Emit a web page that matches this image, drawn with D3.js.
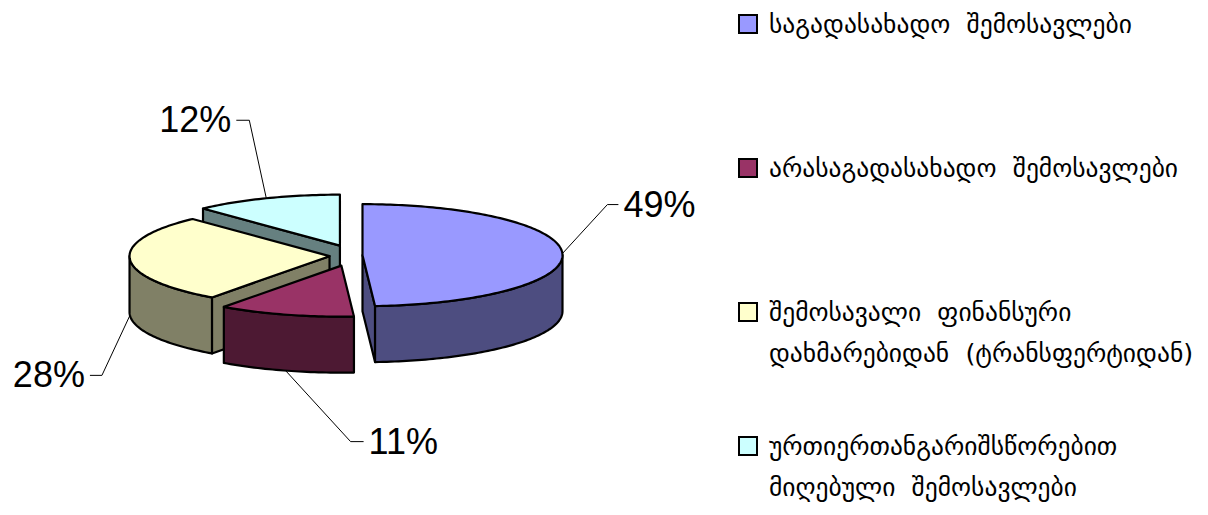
<!DOCTYPE html>
<html>
<head>
<meta charset="utf-8">
<script src="https://cdn.jsdelivr.net/npm/d3@7"></script>
<style>
  body { margin: 0; background: #fff; }
  .pct { font-family: "Liberation Sans", Arial, sans-serif; font-size: 36px; fill: #000; }
  .leg { font-family: "DejaVu Sans", sans-serif; font-size: 25.5px; fill: #000; white-space: pre; }
</style>
</head>
<body>
<svg id="chart" width="1208" height="515"></svg>
<script>
// DATA
var categories = [
  ["საგადასახადო  შემოსავლები"],
  ["არასაგადასახადო  შემოსავლები"],
  ["შემოსავალი  ფინანსური", "დახმარებიდან  (ტრანსფერტიდან)"],
  ["ურთიერთანგარიშსწორებით", "მიღებული  შემოსავლები"]
];
var values = [49, 11, 28, 12];
var pctLabels = ["49%", "11%", "28%", "12%"];

// colours (top face / side face)
var topColor = ["#9999FF", "#993366", "#FFFFCC", "#CCFFFF"];
var sideColor = ["#4D4D80", "#4D1933", "#808066", "#668080"];

// pie geometry
var cx = 346, cy = 255.5, rx = 200, ry = 51, depth = 56,
    explode = 16.5, explodeY = 0.64;

// leader elbow offsets from the anchor point, and label side
var leader = [
  {dx: 45, dy: -49, len: 11, side: 1},
  {dx: 65, dy: 71, len: 13, side: 1},
  {dx: -28, dy: 60, len: 12, side: -1},
  {dx: -17, dy: -78, len: 13, side: -1}
];

var svg = d3.select("#chart");

var pie = d3.pie().sort(null).value(function(d) { return d; });
var arcs = pie(values);

var line = d3.line();

function pt(o, a, down) {
  return [o[0] + rx * Math.sin(a), o[1] - ry * Math.cos(a) + (down ? depth : 0)];
}
function arcPts(o, a0, a1, down) {
  var n = Math.max(2, Math.ceil(Math.abs(a1 - a0) / 0.02)), p = [];
  for (var i = 0; i <= n; i++) p.push(pt(o, a0 + (a1 - a0) * i / n, down));
  return p;
}

var slices = arcs.map(function(a, i) {
  var mid = (a.startAngle + a.endAngle) / 2;
  return {
    i: i, s: a.startAngle, e: a.endAngle, mid: mid,
    o: [cx + explode * Math.sin(mid), cy - explode * Math.cos(mid) * explodeY]
  };
});

// back slices first
var order = slices.slice().sort(function(a, b) { return Math.cos(b.mid) - Math.cos(a.mid); });

var pieG = svg.append("g")
  .attr("stroke", "#000")
  .attr("stroke-width", 2.2)
  .attr("stroke-linejoin", "round");

order.forEach(function(sl) {
  var g = pieG.append("g");
  var o = sl.o, top = o, bot = [o[0], o[1] + depth];

  // radial face at start
  if (Math.sin(sl.s) < -1e-6) {
    var p = pt(o, sl.s, false), q = pt(o, sl.s, true);
    g.append("path").attr("fill", sideColor[sl.i])
      .attr("d", line([top, p, q, bot]) + "Z");
  }
  // radial face at end
  if (Math.sin(sl.e) > 1e-6) {
    var p2 = pt(o, sl.e, false), q2 = pt(o, sl.e, true);
    g.append("path").attr("fill", sideColor[sl.i])
      .attr("d", line([top, p2, q2, bot]) + "Z");
  }
  // outer wall, front part only
  var lo = Math.max(sl.s, Math.PI / 2), hi = Math.min(sl.e, 3 * Math.PI / 2);
  if (lo < hi) {
    var w = arcPts(o, lo, hi, false).concat(arcPts(o, hi, lo, true));
    g.append("path").attr("fill", sideColor[sl.i])
      .attr("d", line(w) + "Z");
  }
  // top face
  g.append("path").attr("fill", topColor[sl.i])
    .attr("d", line([top].concat(arcPts(o, sl.s, sl.e, false))) + "Z");
});

// leader lines and percentage labels
slices.forEach(function(sl) {
  var lb = leader[sl.i];
  var anchor = pt(sl.o, sl.mid, Math.cos(sl.mid) < 0);
  var elbow = [anchor[0] + lb.dx, anchor[1] + lb.dy];
  var end = [elbow[0] + lb.side * lb.len, elbow[1]];
  svg.append("path")
    .attr("d", line([anchor, elbow, end]))
    .attr("fill", "none")
    .attr("stroke", "#000")
    .attr("stroke-width", 1);
  svg.append("text")
    .attr("class", "pct")
    .attr("x", end[0] + lb.side * 5)
    .attr("y", end[1] + 12)
    .attr("text-anchor", lb.side > 0 ? "start" : "end")
    .text(pctLabels[sl.i]);
});

// legend
var legY = [15, 159, 303, 437];
var legend = svg.append("g").selectAll("g")
  .data(categories)
  .enter().append("g")
    .attr("transform", function(d, i) { return "translate(739," + legY[i] + ")"; });

legend.append("rect")
  .attr("width", 18)
  .attr("height", 18)
  .attr("fill", function(d, i) { return topColor[i]; })
  .attr("stroke", "#000")
  .attr("stroke-width", 2);

legend.each(function(lines) {
  var t = d3.select(this).append("text")
    .attr("class", "leg")
    .attr("xml:space", "preserve");
  lines.forEach(function(s, j) {
    t.append("tspan")
      .attr("x", 30)
      .attr("y", 18 + j * 41)
      .text(s);
  });
});
</script>
</body>
</html>
